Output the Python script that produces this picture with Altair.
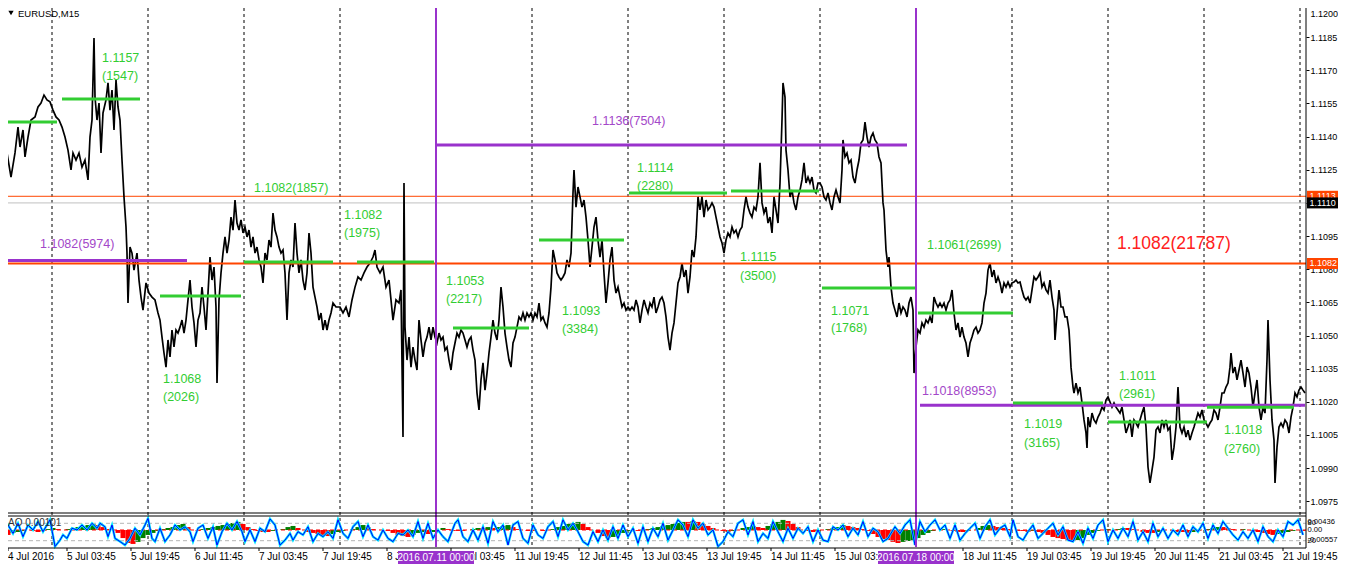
import altair as alt
import pandas as pd

FONT = "Liberation Sans"
W, H = 1298, 540

# ---------------- price path: one M15 bar per pixel column (bar index) ----------------
seg_a_bar = [3,4,7,11,15,18,20,23,25,28, 31,35,38,41,44,47,50,53,56,59,
             62,65,68,71,73,76,79,82,85,88, 90,92,94,95,97,99,101,103,106,108,
             110,112,114,116,118,120,122,124,126,127, 128,130,132,134,137,139,141,143,146,149,
             152,155,158,160,162,164,166,168,170,172, 174,176,178,180,182,184,186,188,190,192,
             194,196,198,200,202,204,206,208,210,212, 214,216,217,219,221,223,225,227,229,231,
             233,235,237,239,241,243,245,247,249,251, 253,255,257,259,261,263,265,267,269,271,
             273,275,277,279,281,283,285,287,289,291, 293,295,297,299,301,303,305,307,309,311,
             313,315,317,319,321,323,325,327,329,331, 333,336]
seg_a_px = [1.10991,1.11145,1.11326,1.11217,1.11326,1.11443,1.11353,1.11430,1.11308,1.11398,
            1.11475,1.11489,1.11534,1.11552,1.11588,1.11566,1.11557,1.11520,1.11489,1.11475,
            1.11443,1.11398,1.11339,1.11249,1.11326,1.11294,1.11326,1.11262,1.11294,1.11204,
            1.11398,1.11475,1.11846,1.11579,1.11475,1.11552,1.11326,1.11507,1.11566,1.11643,
            1.11520,1.11611,1.11430,1.11656,1.11534,1.11475,1.11294,1.11127,1.10991,1.10873,
            1.10647,1.10900,1.10873,1.10796,1.10873,1.10751,1.10674,1.10615,1.10738,1.10692,
            1.10674,1.10661,1.10602,1.10570,1.10493,1.10421,1.10357,1.10480,1.10403,1.10525,
            1.10448,1.10525,1.10511,1.10538,1.10570,1.10511,1.10570,1.10661,1.10751,1.10629,
            1.10557,1.10448,1.10570,1.10602,1.10719,1.10629,1.10525,1.10692,1.10855,1.10751,
            1.10810,1.10629,1.10285,1.10661,1.10783,1.10873,1.10946,1.10873,1.10932,1.11036,
            1.10977,1.11113,1.11009,1.10977,1.11023,1.10964,1.10991,1.10946,1.10977,1.10900,
            1.10946,1.10873,1.10900,1.10842,1.10810,1.10738,1.10873,1.10842,1.10932,1.10900,
            1.11054,1.10977,1.10946,1.10900,1.10873,1.10887,1.10783,1.10570,1.10783,1.10842,
            1.10810,1.11009,1.10873,1.10783,1.10842,1.10751,1.10706,1.10783,1.10964,1.10873,
            1.10719,1.10674,1.10629,1.10570,1.10602,1.10525,1.10570,1.10525,1.10570,1.10602,
            1.10647,1.10629]

seg_b_bar = [340,343,346,349,352,355,358,361,364,367, 370,373,375,377,380,383,386,389,391,393,
             396,399,401,403,404,405,407,409,411,413, 415,417,419,421,423,425,427,429,431,433,
             435,437,439,441,443,445,447,449,451,453, 455,457,459,461,463,465,467,469,471,473,
             475,477,479,481,483,485,487,489,491,493, 495,497,499,501,503,505,507,509,511,513,
             515,517,519,521,523,525,527,529,531,533, 535,537,539,541,543,545,547,549,551,553,
             555,557,559,561,563,565,567,569,571,573, 574,576,578,580,582,584,586,588,590,592,
             594,596,598,600,602,604,606,608,610,612, 614,616,618,620,622,624,626,628,630,632,
             634,636,638,640,642,644,646,648,650,652, 654,656,658,660]
seg_b_px = [1.10629,1.10602,1.10629,1.10584,1.10661,1.10719,1.10765,1.10751,1.10783,1.10810,
            1.10828,1.10855,1.10887,1.10810,1.10783,1.10810,1.10719,1.10751,1.10661,1.10570,
            1.10661,1.10647,1.10706,1.10041,1.11190,1.10538,1.10389,1.10493,1.10357,1.10448,
            1.10389,1.10344,1.10570,1.10480,1.10403,1.10466,1.10493,1.10538,1.10480,1.10538,
            1.10493,1.10466,1.10511,1.10480,1.10493,1.10434,1.10448,1.10389,1.10344,1.10421,
            1.10466,1.10511,1.10493,1.10525,1.10511,1.10480,1.10448,1.10480,1.10493,1.10434,
            1.10389,1.10240,1.10163,1.10299,1.10376,1.10253,1.10330,1.10421,1.10493,1.10570,
            1.10511,1.10480,1.10570,1.10719,1.10629,1.10511,1.10448,1.10389,1.10357,1.10466,
            1.10493,1.10538,1.10584,1.10570,1.10602,1.10570,1.10602,1.10584,1.10602,1.10570,
            1.10602,1.10584,1.10647,1.10570,1.10584,1.10557,1.10538,1.10602,1.10719,1.10887,
            1.10842,1.10783,1.10765,1.10751,1.10765,1.10783,1.10842,1.10810,1.10873,1.11145,
            1.11249,1.11081,1.11172,1.11127,1.11081,1.11113,1.11036,1.10932,1.10810,1.10900,
            1.10991,1.11036,1.10932,1.10855,1.10932,1.10783,1.10647,1.10738,1.10842,1.10900,
            1.10751,1.10692,1.10719,1.10674,1.10629,1.10647,1.10615,1.10629,1.10615,1.10629,
            1.10615,1.10661,1.10629,1.10557,1.10615,1.10661,1.10629,1.10602,1.10647,1.10629,
            1.10674,1.10602,1.10629,1.10661]

seg_c_bar = [662,664,666,668,670,672,674,676,678,680, 682,684,686,688,690,692,694,696,698,700,
             702,704,706,708,710,712,714,716,718,720, 722,724,726,728,730,732,734,736,738,740,
             742,744,746,748,750,752,754,756,758,760, 762,764,766,768,770,772,774,776,778,780,
             782,783,785,786,788,790,792,794,796,798, 800,802,804,806,808,810,812,814,816,818,
             820,822,824,826,828,830,832,834,836,838, 840,842,843,845,847,849,851,853,855,857,
             859,861,863,865,867,869,871,873,875,877, 879,881,883,884,886,888,889,891,893,895,
             897,899,901,903,905,907,909,911,913,914, 916,918,920,922,924,926,928,930,932,934,
             936,938,940,942,944,946,948,950,952,954, 956,958,960,962,964,966,968,970,972,974,
             976,978,980,982,984,986,988,990,992,994]
seg_c_px = [1.10674,1.10647,1.10584,1.10493,1.10434,1.10511,1.10557,1.10647,1.10738,1.10765,
            1.10828,1.10765,1.10796,1.10692,1.10765,1.10887,1.10855,1.10946,1.11127,1.11068,
            1.11127,1.11036,1.11113,1.11068,1.11081,1.11100,1.11081,1.11036,1.10991,1.10946,
            1.10919,1.10873,1.10932,1.10964,1.10946,1.10991,1.10964,1.10977,1.10946,1.10977,
            1.10991,1.11068,1.11127,1.11081,1.11054,1.11036,1.11081,1.11068,1.11127,1.11281,
            1.11100,1.11054,1.11081,1.11009,1.11036,1.10964,1.11127,1.11068,1.11009,1.11190,
            1.11475,1.11643,1.11579,1.11339,1.11249,1.11127,1.11158,1.11100,1.11068,1.11127,
            1.11158,1.11204,1.11281,1.11190,1.11217,1.11190,1.11217,1.11158,1.11145,1.11190,
            1.11190,1.11172,1.11127,1.11113,1.11145,1.11100,1.11068,1.11127,1.11158,1.11127,
            1.11100,1.11249,1.11385,1.11308,1.11326,1.11281,1.11294,1.11217,1.11190,1.11249,
            1.11294,1.11371,1.11385,1.11466,1.11398,1.11353,1.11398,1.11416,1.11385,1.11371,
            1.11308,1.11281,1.11100,1.11068,1.10887,1.10810,1.10855,1.10719,1.10647,1.10615,
            1.10584,1.10647,1.10602,1.10629,1.10615,1.10584,1.10647,1.10674,1.10615,1.10330,
            1.10448,1.10525,1.10511,1.10557,1.10538,1.10570,1.10557,1.10584,1.10557,1.10674,
            1.10647,1.10629,1.10647,1.10629,1.10647,1.10615,1.10647,1.10661,1.10706,1.10602,
            1.10525,1.10557,1.10493,1.10538,1.10493,1.10466,1.10403,1.10466,1.10493,1.10525,
            1.10538,1.10511,1.10525,1.10557,1.10647,1.10692,1.10796,1.10828,1.10765,1.10796]

seg_d_bar = [996,998,1000,1002,1004,1006,1008,1010,1012,1014, 1016,1018,1020,1022,1024,1026,1028,1030,1032,1034,
             1036,1038,1040,1042,1044,1046,1048,1050,1052,1054, 1055,1057,1059,1061,1063,1065,1067,1069,1070,1071,
             1073,1074,1076,1078,1080,1082,1084,1086,1087,1088, 1090,1092,1094,1096,1098,1100,1102,1104,1106,1108,
             1110,1112,1114,1116,1118,1120,1122,1124,1126,1128, 1130,1132,1134,1136,1138,1140,1142,1144,1146,1148,
             1150,1152,1154,1156,1158,1160,1162,1164,1166,1168, 1170,1172,1174,1176,1178,1180,1182,1184,1186,1188,
             1190,1192,1194,1196,1198,1200,1202,1204,1206,1208, 1210,1212,1214,1216,1218,1220,1222,1224,1226,1228,
             1230,1231,1233,1235,1237,1239,1241,1243,1245,1247, 1249,1251,1253,1255,1257,1259,1261,1263,1265,1267,
             1268,1270,1272,1274,1275,1277,1279,1281,1283,1285, 1287,1289,1291,1293,1295,1297,1299,1301,1303,1305]
seg_d_px = [1.10738,1.10765,1.10738,1.10692,1.10738,1.10719,1.10742,1.10719,1.10738,1.10742,
            1.10751,1.10738,1.10742,1.10706,1.10674,1.10661,1.10674,1.10647,1.10706,1.10765,
            1.10751,1.10765,1.10783,1.10719,1.10738,1.10706,1.10692,1.10751,1.10674,1.10615,
            1.10480,1.10602,1.10706,1.10629,1.10629,1.10584,1.10584,1.10525,1.10448,1.10357,
            1.10267,1.10240,1.10285,1.10240,1.10267,1.10195,1.10118,1.10059,1.09991,1.10131,
            1.10086,1.10149,1.10118,1.10104,1.10131,1.10149,1.10176,1.10163,1.10208,1.10222,
            1.10199,1.10176,1.10195,1.10176,1.10163,1.10149,1.10176,1.10118,1.10059,1.10086,
            1.10118,1.10041,1.10118,1.10104,1.10086,1.10118,1.10149,1.10176,1.10086,1.09905,
            1.09833,1.09891,1.09950,1.10072,1.10086,1.10059,1.10118,1.10086,1.10118,1.10072,
            1.10086,1.09937,1.09995,1.10086,1.10267,1.10086,1.10059,1.10086,1.10041,1.10072,
            1.10027,1.10059,1.10086,1.10118,1.10149,1.10131,1.10163,1.10118,1.10104,1.10086,
            1.10104,1.10118,1.10163,1.10149,1.10118,1.10176,1.10240,1.10240,1.10267,1.10285,
            1.10357,1.10421,1.10330,1.10357,1.10299,1.10344,1.10389,1.10330,1.10267,1.10357,
            1.10330,1.10267,1.10176,1.10240,1.10299,1.10176,1.10118,1.10176,1.10149,1.10389,
            1.10570,1.10299,1.10118,1.10027,1.09833,1.09995,1.10086,1.10104,1.10086,1.10118,
            1.10104,1.10059,1.10131,1.10176,1.10240,1.10222,1.10253,1.10267,1.10253,1.10240]

price_bar = seg_a_bar + seg_b_bar + seg_c_bar + seg_d_bar
price_val = seg_a_px + seg_b_px + seg_c_px + seg_d_px
assert len(seg_a_bar) == len(seg_a_px), (len(seg_a_bar), len(seg_a_px))
assert len(seg_b_bar) == len(seg_b_px), (len(seg_b_bar), len(seg_b_px))
assert len(seg_c_bar) == len(seg_c_px), (len(seg_c_bar), len(seg_c_px))
assert len(seg_d_bar) == len(seg_d_px), (len(seg_d_bar), len(seg_d_px))

# ---------------- daily (green) and weekly (purple) levels ----------------
day_from = [3, 62, 160, 244, 357, 453, 539, 629, 731, 822, 918, 1013, 1108, 1207]
day_to   = [57, 140, 241, 333, 434, 529, 624, 727, 819, 916, 1013, 1103, 1207, 1294]
day_lvl  = [1.11466, 1.11570, 1.10679, 1.10833, 1.10833, 1.10534, 1.10932,
            1.11145, 1.11154, 1.10715, 1.10602, 1.10195, 1.10109, 1.10176]

day_lab_bar = [102, 102, 163, 163, 254, 344, 344, 446, 446, 562, 562, 637, 637,
               740, 740, 831, 831, 927, 1024, 1024, 1119, 1119, 1224, 1224]
day_lab_px = [1.11756, 1.11674, 1.10303, 1.10222, 1.11167, 1.11045, 1.10964, 1.10747,
              1.10665, 1.10611, 1.10529, 1.11258, 1.11176, 1.10855, 1.10769, 1.10611,
              1.10534, 1.10909, 1.10099, 1.10014, 1.10317, 1.10235, 1.10072, 1.09986]
day_lab_txt = ["1.1157", "(1547)", "1.1068", "(2026)", "1.1082(1857)", "1.1082", "(1975)",
               "1.1053", "(2217)", "1.1093", "(3384)", "1.1114", "(2280)", "1.1115", "(3500)",
               "1.1071", "(1768)", "1.1061(2699)", "1.1019", "(3165)", "1.1011", "(2961)",
               "1.1018", "(2760)"]

week_from = [3, 436, 920]
week_to = [187, 907, 1305]
week_lvl = [1.10840, 1.11362, 1.10185]
week_lab_bar = [40, 592, 922]
week_lab_px = [1.10914, 1.11471, 1.10249]
week_lab_txt = ["1.1082(5974)", "1.1136(7504)", "1.1018(8953)"]

total_lab_bar = [1117]
total_lab_px = [1.10914]
total_lab_txt = ["1.1082(21787)"]

level_thin = [1.1113]
level_bid = [1.1110]
level_thick = [1.10826]

price_ticks = [1.1200, 1.1185, 1.1170, 1.1155, 1.1140, 1.1125, 1.1110, 1.1095, 1.1080,
               1.1065, 1.1050, 1.1035, 1.1020, 1.1005, 1.0990, 1.0975]
box_px = [1.1113, 1.1110, 1.10826]
box_txt = ["1.1113", "1.1110", "1.1082"]
box_col = ["#FF4500", "#000000", "#FF4500"]

# ---------------- time axis ----------------
sep_bar = [52, 148, 244, 340, 532, 628, 724, 820, 1012, 1108, 1204, 1300]
week_sep_bar = [436, 916]
week_sep_txt = ["2016.07.11 00:00", "2016.07.18 00:00"]
xlab_bar = [8, 67, 131, 195, 259, 323, 387, 451, 515, 579, 643, 707, 771, 835,
            963, 1027, 1091, 1155, 1219, 1283]
xlab_txt = ["4 Jul 2016", "5 Jul 03:45", "5 Jul 19:45", "6 Jul 11:45", "7 Jul 03:45",
            "7 Jul 19:45", "8 Jul 11:45", "11 Jul 03:45", "11 Jul 19:45", "12 Jul 11:45",
            "13 Jul 03:45", "13 Jul 19:45", "14 Jul 11:45", "15 Jul 03:45", "18 Jul 11:45",
            "19 Jul 03:45", "19 Jul 19:45", "20 Jul 11:45", "21 Jul 03:45", "21 Jul 19:45"]

# ---------------- indicator window ----------------
stoch_bar = ([3,8,13,18,23,28,33,38,43,50, 55,60,63,67,72,77,82,87,92,97,
              100,105,108,112,115,120,125,130,135,140, 145,148,152,155,160,165,170,175,180,185,
              190,193,198,203,208,213,217,222,227,232, 237,242,245,250,255,260,265,270,275,280,
              285,290,293,298,303,308,313,318,323,328, 333,338,343,348,353,358,363,368,373,378,
              383,388,393,398,403,408,413,418,423,428, 433,438,443,448]
             + [455,458,463,468,473,478,483,488,493,498, 503,508,513,518,523,528,533,538,543,548,
                553,558,563,568,573,578,583,588,593,598, 603,608,613,618,623,628,633,638,643,648,
                653,658,663,668,673,678,683,688,693,698, 703,708,713,718,723,728,733,738,743,748,
                753,758,763,768,773,778,783,788,793,798, 803,808,813,818,823,828,833,838,843,848,
                853,858,863,868,873,878,883,888]
             + [890,895,900,905,910,915,920,925,930,935, 940,945,950,955,960,965,970,975,980,985,
                990,995,1000,1005,1010,1013,1018,1023,1028,1033, 1038,1043,1048,1053,1058,1063,1068,1073,1078,1083,
                1088,1093,1098,1103,1108,1113,1118,1123,1128,1133, 1138,1143,1148,1153,1158,1163,1168,1173,1178,1183,
                1188,1193,1198,1203,1208,1213,1218,1223,1228,1233, 1238,1243,1248,1253,1258,1263,1268,1273,1278,1283,
                1288,1293,1298,1303])
stoch_val = ([40,74,45,80,34,74,57,86,51,92, 0,22,40,28,63,57,74,57,80,63,
              80,68,34,74,28,17,5,28,63,40, 74,97,28,17,63,17,40,74,57,68,
              51,17,63,74,28,68,5,51,80,57, 86,51,17,57,17,63,51,95,74,5,
              22,45,22,51,40,68,17,45,34,51, 28,92,45,28,68,86,34,74,34,22,
              57,28,17,45,40,57,34,86,28,80, 28,57,34,17]
             + [80,92,34,17,57,22,68,11,86,51, 74,5,74,86,28,11,74,40,28,68,
                86,34,92,57,80,51,17,5,51,17, 57,22,68,28,74,34,63,11,68,17,
                63,34,80,22,57,92,74,34,92,63, 80,40,57,0,17,51,34,80,92,40,
                86,17,45,28,86,51,17,63,28,63, 45,68,17,57,22,17,68,57,74,34,
                63,40,86,34,63,51,17,28]
             + [40,68,45,74,92,5,86,51,74,92, 57,74,28,74,22,45,63,80,28,68,
                92,40,63,74,34,92,34,22,51,74, 28,45,63,80,40,68,22,17,51,11,
                63,28,74,92,17,57,28,63,34,86, 22,51,17,80,34,63,28,57,40,74,
                34,68,51,80,28,74,45,86,63,40, 22,51,28,57,17,68,34,17,57,34,
                86,74,92,40])
assert len(stoch_bar) == len(stoch_val), (len(stoch_bar), len(stoch_val))

# Awesome Oscillator, in units of 0.0001, one value every 5 bars starting at bar 3
ao_val = [-22,-27,-16,-11,-5,0,-5,-11,-5,5, 11,5,0,5,11,16,22,27,33,27,
          16,5,0,-16,-44,-71,-76,-65,-44,-27, -16,-5,5,11,16,27,33,16,0,-5,
          5,11,16,22,27,33,38,44,33,16, 5,-5,-11,-11,-5,0,5,16,22,11,
          0,-11,-16,-22,-27,-33,-22,-11,-5,0, 5,16,27,16,5,0,0,-5,-16,-27,
          -33,-38,-27,-16,-11,-22,-11,0,11,5,
          -5,-5,-5,0,5,11,11,16,11,16, 22,27,16,5,0,-5,-5,0,-5,0,
          5,16,22,33,38,44,33,16,0,-16, -33,-44,-38,-27,-16,-5,0,-5,0,5,
          11,16,22,27,33,38,44,44,49,44, 33,22,11,0,-5,-11,-5,0,11,16,
          22,16,11,22,33,44,55,49,33,16, 0,-5,-11,-5,0,5,11,16,27,22,
          16,11,5,-5,-22,-38,-49,-55,-65,-71, -65,-60,-55,-44,-27,-16,-5,0,5,0,
          -5,-11,-11,-5,0,11,22,27,22,16, 11,5,0,-5,-5,-11,-5,-11,-16,-27,
          -38,-44,-49,-55,-60,-55,-44,-27,-16,-5, 0,5,0,5,11,11,5,0,-11,-16,
          -16,-11,-5,0,-5,-11,-11,-16,-11,-5, 0,5,11,16,16,11,5,0,5,0,
          -5,-11,-16,-22,-27,-22,-16,-11,-5,0, -5]
ao_bar = list(range(3, 3 + 5 * len(ao_val), 5))
ao_lab_val = [43.6, 0.0, -55.7]
ao_lab_txt = ["0.00436", "0.00", "-0.00557"]
stoch_lvl = [80, 20]
stoch_lab_txt = ["80", "20"]

# ---------------- scales ----------------
xs = alt.Scale(domain=[8, 1306], nice=False, zero=False, padding=0)
yp = alt.Scale(domain=[1.09697, 1.12], range=[505, -4], nice=False, zero=False)
ys = alt.Scale(domain=[0, 100], range=[538.5, 509.5], nice=False, zero=False)
ya = alt.Scale(domain=[-92.7, 76.3], range=[539, 508], nice=False, zero=False, padding=0)


def X(f):
    return alt.X(f, type="quantitative", scale=xs, axis=None)


def YP(f):
    return alt.Y(f, type="quantitative", scale=yp, axis=None)


one = pd.DataFrame({"k": [0]})
layers = []

# day separators (dotted)
layers.append(alt.Chart(pd.DataFrame({"bar": sep_bar})).mark_rule(
    color="black", strokeWidth=1, strokeDash=[3, 3]).encode(
    x=X("bar"), y=alt.value(0), y2=alt.value(H)))

# AO histogram
df_ao = pd.DataFrame({"bar": ao_bar, "ao": ao_val})
df_ao["zero"] = 0
df_ao["dir"] = ["up" if i > 0 and v > ao_val[i - 1] else "down" for i, v in enumerate(ao_val)]
layers.append(alt.Chart(df_ao).mark_bar(width=5).encode(
    x=X("bar"), y=alt.Y("ao:Q", scale=ya, axis=None), y2="zero:Q",
    color=alt.Color("dir:N", scale=alt.Scale(domain=["up", "down"], range=["#008000", "#FF0000"]), legend=None)))
layers.append(alt.Chart(pd.DataFrame({"z": [0]})).mark_rule(
    color="#FF0000", strokeDash=[4, 3], strokeWidth=1).encode(
    x=alt.value(0), x2=alt.value(W), y=alt.Y("z:Q", scale=ya, axis=None)))
layers.append(alt.Chart(pd.DataFrame({"lv": stoch_lvl})).mark_rule(
    color="#B4B4B4", strokeDash=[4, 3], strokeWidth=1).encode(
    x=alt.value(0), x2=alt.value(W), y=alt.Y("lv:Q", scale=ys, axis=None)))
df_st = pd.DataFrame({"bar": stoch_bar, "s": stoch_val})
layers.append(alt.Chart(df_st).mark_line(color="#00E5FF", strokeWidth=2.4).encode(
    x=X("bar"), y=alt.Y("s:Q", scale=ys, axis=None)))
layers.append(alt.Chart(df_st).mark_line(color="#0000FF", strokeWidth=1).encode(
    x=X("bar"), y=alt.Y("s:Q", scale=ys, axis=None)))

# horizontal price lines under the price
layers.append(alt.Chart(pd.DataFrame({"p": level_bid})).mark_rule(color="#C0C0C0", strokeWidth=1).encode(
    x=alt.value(0), x2=alt.value(W), y=YP("p")))
layers.append(alt.Chart(pd.DataFrame({"p": level_thin})).mark_rule(color="#FF4500", strokeWidth=1).encode(
    x=alt.value(0), x2=alt.value(W), y=YP("p")))

# price path with right axis
axis_p = alt.Axis(orient="right", values=price_ticks, format=".4f", domain=False, grid=False,
                  ticks=True, tickSize=3, tickColor="black", labelPadding=1, labelFont=FONT,
                  labelFontSize=9, labelColor="black", labelOverlap=False, labelFlush=False,
                  title=None,
                  labelOffset={"condition": {"test": "datum.value >= 1.1199", "value": 9}, "value": 0})
layers.append(alt.Chart(pd.DataFrame({"bar": price_bar, "p": price_val})).mark_line(
    color="black", strokeWidth=1.7).encode(
    x=X("bar"), y=alt.Y("p:Q", scale=yp, axis=axis_p)))

layers.append(alt.Chart(pd.DataFrame({"p": level_thick})).mark_rule(color="#FF4500", strokeWidth=2).encode(
    x=alt.value(0), x2=alt.value(W), y=YP("p")))

# weekly (purple) and daily (green) levels
layers.append(alt.Chart(pd.DataFrame({"a": week_from, "b": week_to, "p": week_lvl})).mark_rule(
    color="#9932CC", strokeWidth=3).encode(x=X("a"), x2="b:Q", y=YP("p")))
layers.append(alt.Chart(pd.DataFrame({"a": day_from, "b": day_to, "p": day_lvl})).mark_rule(
    color="#32CD32", strokeWidth=3).encode(x=X("a"), x2="b:Q", y=YP("p")))

# week separators (purple verticals)
layers.append(alt.Chart(pd.DataFrame({"bar": week_sep_bar})).mark_rule(
    color="#9932CC", strokeWidth=2).encode(x=X("bar"), y=alt.value(0), y2=alt.value(H - 1)))

# frames
layers.append(alt.Chart(pd.DataFrame({"y": [505, 508, H]})).mark_rule(color="black", strokeWidth=1).encode(
    x=alt.value(0), x2=alt.value(W), y=alt.Y("y:Q", scale=None)))
layers.append(alt.Chart(one).mark_rule(color="black", strokeWidth=1).encode(
    x=alt.value(W), y=alt.value(0), y2=alt.value(H)))

# level labels
layers.append(alt.Chart(pd.DataFrame({"bar": day_lab_bar, "p": day_lab_px, "t": day_lab_txt})).mark_text(
    align="left", baseline="middle", font=FONT, fontSize=12.5, color="#32CD32").encode(
    x=X("bar"), y=YP("p"), text="t:N"))
layers.append(alt.Chart(pd.DataFrame({"bar": week_lab_bar, "p": week_lab_px, "t": week_lab_txt})).mark_text(
    align="left", baseline="middle", font=FONT, fontSize=12.5, color="#A347C9").encode(
    x=X("bar"), y=YP("p"), text="t:N"))
layers.append(alt.Chart(pd.DataFrame({"bar": total_lab_bar, "p": total_lab_px, "t": total_lab_txt})).mark_text(
    align="left", baseline="middle", font=FONT, fontSize=17.5, color="#FF2020").encode(
    x=X("bar"), y=YP("p"), text="t:N"))

# price boxes on the right axis
for p, t, c in zip(box_px, box_txt, box_col):
    dfb = pd.DataFrame({"p": [p], "t": [t]})
    layers.append(alt.Chart(dfb).mark_rect(color=c, yOffset=-5.5, y2Offset=5.5).encode(
        x=alt.value(W + 1), x2=alt.value(W + 32), y=YP("p"), y2="p:Q"))
    layers.append(alt.Chart(dfb).mark_text(align="left", baseline="middle", font=FONT, fontSize=9,
                                           color="white").encode(
        x=alt.value(W + 3.5), y=YP("p"), text="t:N"))

# indicator labels on the right
layers.append(alt.Chart(pd.DataFrame({"v": stoch_lvl, "t": stoch_lab_txt})).mark_text(
    align="left", baseline="middle", font=FONT, fontSize=7.6, color="black").encode(
    x=alt.value(W + 1.5), y=alt.Y("v:Q", scale=ys, axis=None), text="t:N"))
layers.append(alt.Chart(pd.DataFrame({"v": ao_lab_val, "t": ao_lab_txt})).mark_text(
    align="left", baseline="middle", font=FONT, fontSize=7.6, color="black").encode(
    x=alt.value(W + 1.5), y=alt.Y("v:Q", scale=ya, axis=None), text="t:N"))

# time axis labels and ticks
df_xl = pd.DataFrame({"bar": xlab_bar, "t": xlab_txt})
layers.append(alt.Chart(df_xl).mark_rule(color="black").encode(
    x=X("bar"), y=alt.value(H), y2=alt.value(H + 3)))
layers.append(alt.Chart(df_xl).mark_text(align="left", baseline="middle", font=FONT, fontSize=10,
                                         color="black").encode(
    x=X("bar"), y=alt.value(549), text="t:N"))
df_wb = pd.DataFrame({"bar": week_sep_bar, "t": week_sep_txt})
layers.append(alt.Chart(df_wb).mark_rect(color="#9932CC", xOffset=-38, x2Offset=38).encode(
    x=X("bar"), x2="bar:Q", y=alt.value(543), y2=alt.value(556)))
layers.append(alt.Chart(df_wb).mark_text(align="center", baseline="middle", font=FONT, fontSize=10,
                                         color="white").encode(
    x=X("bar"), y=alt.value(549.5), text="t:N"))

# window captions
layers.append(alt.Chart(one).mark_point(shape="triangle-down", filled=True, size=28, color="black",
                                        opacity=1).encode(x=alt.value(3), y=alt.value(5)))
layers.append(alt.Chart(one).mark_text(align="left", baseline="middle", font=FONT, fontSize=9.5,
                                       color="black", text="EURUSD,M15").encode(
    x=alt.value(10), y=alt.value(5.5)))
layers.append(alt.Chart(one).mark_text(align="left", baseline="middle", font=FONT, fontSize=10,
                                       color="#333333", text="AO 0.00101").encode(
    x=alt.value(0), y=alt.value(515)))

chart = alt.layer(*layers).resolve_scale(y="independent").properties(
    width=W, height=H,
    autosize=alt.AutoSizeParams(type="none"),
    padding={"left": 0, "top": 0, "right": 32, "bottom": 18},
    background="white",
).configure_view(stroke=None)

chart.save("out.html", embed_options={"renderer": "svg", "actions": False})
